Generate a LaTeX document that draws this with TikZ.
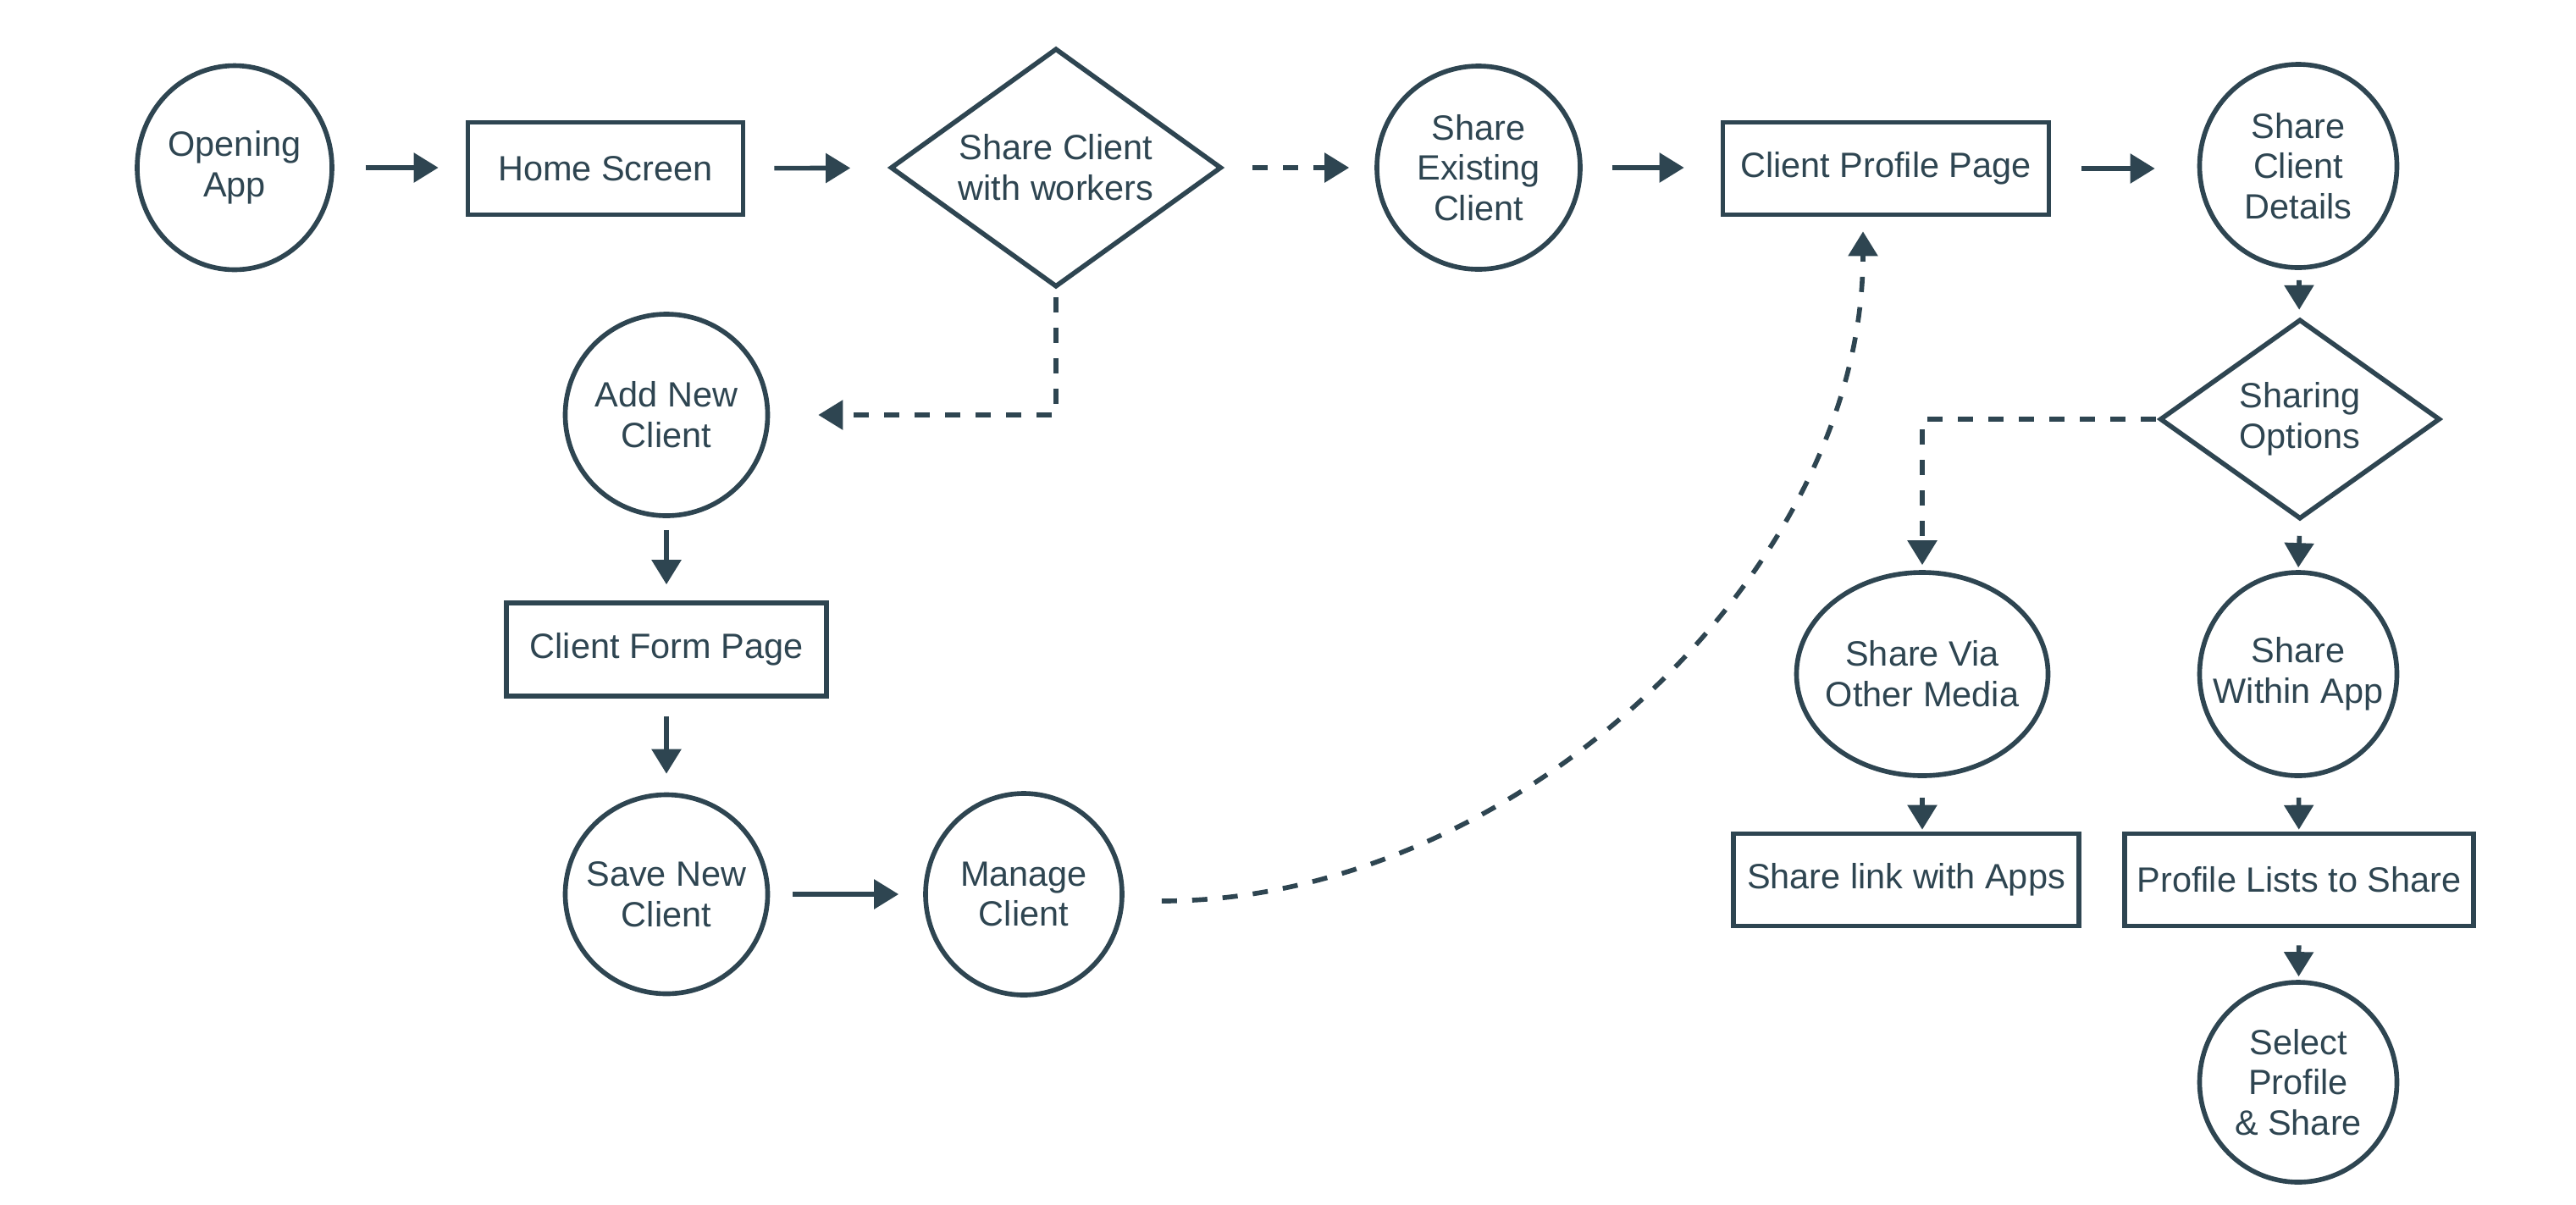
\documentclass[tikz,border=0pt]{standalone}
\usepackage{fontspec}
\setmainfont{Liberation Sans}
\usetikzlibrary{%
  arrows.meta,%
  shapes.geometric,% wg. ellipse, diamond
  positioning%
}
\definecolor{ink}{RGB}{46,69,81}

\begin{document}
\begin{tikzpicture}
  [
  font=\fontsize{11.8pt}{13.6pt}\selectfont, line width=1.6pt, text=ink,
  >={Triangle[length=2.9mm, width=3.4mm]},
  screen/.style={rectangle, draw=ink, minimum height=10.9mm, inner sep=0pt},
  action/.style={ellipse, draw=ink, inner xsep=-5mm, inner ysep=0pt, align=center},
  choice/.style={diamond, draw=ink, aspect=1.4, inner sep=0pt, align=center},
  flow/.style={->, draw=ink},
  maybe/.style={->, draw=ink, dash pattern=on 1.8mm off 1.8mm},
  gap/.style 2 args={shorten <=#1, shorten >=#2}
  ]

\useasboundingbox (0,0) rectangle (30.42,-14.22);

% top row
\node[action, minimum width=23mm, minimum height=24.1mm] (open) at (2.77,-1.98) {Opening\\App};
\node[screen, minimum width=32.5mm] (home) at (7.15,-1.99) {Home Screen};
\node[choice, minimum width=39.1mm, minimum height=28.2mm] (dia) at (12.47,-1.98) {Share Client\\with workers};
\node[action, minimum width=24mm, minimum height=24mm] (exist) at (17.46,-1.98) {Share\\Existing\\Client};
\node[screen, minimum width=38.5mm] (profile) at (22.27,-1.99) {Client Profile Page};
\node[action, minimum width=23.3mm, minimum height=24mm] (details) at (27.14,-1.96) {Share\\Client\\Details};

% new client branch
\node[action, minimum width=23.9mm, minimum height=23.8mm] (addnew) at (7.87,-4.90) {Add New\\Client};
\node[screen, minimum width=37.8mm, minimum height=11mm] (form) at (7.87,-7.67) {Client Form Page};
\node[action, minimum width=23.9mm, minimum height=23.5mm] (save) at (7.87,-10.56) {Save New\\Client};
\node[action, minimum width=23.2mm, minimum height=23.8mm] (manage) at (12.09,-10.56) {Manage\\Client};

% sharing branch
\node[choice, minimum width=33.1mm, minimum height=23.6mm] (opt) at (27.16,-4.95) {Sharing\\Options};
\node[action, minimum width=29.7mm, minimum height=24mm] (via) at (22.70,-7.96) {Share Via\\Other Media};
\node[action, minimum width=23.3mm, minimum height=24mm] (within) at (27.14,-7.96) {Share\\Within App};
\node[screen, minimum width=40.8mm] (link) at (22.51,-10.39) {Share link with Apps};
\node[screen, minimum width=41.2mm] (lists) at (27.15,-10.39) {Profile Lists to Share};
\node[action, minimum width=23.3mm, minimum height=23.6mm] (select) at (27.14,-12.78) {Select\\Profile\\\&~Share};

\draw[flow, gap={0.37cm}{0.32cm}] (open) -- (open -| home.west);
\draw[flow, gap={0.34cm}{0.45cm}] (home) -- (dia);
\draw[maybe, gap={0.34cm}{0.30cm}] (dia) -- (exist);
\draw[flow, gap={0.35cm}{0.43cm}] (exist) -- (exist -| profile.west);
\draw[flow, gap={0.36cm}{0.50cm}] (profile) -- (profile -| details.west);
\draw[flow, gap={0.12cm}{0.09cm}] (details) -- (opt);

\draw[maybe, gap={0.09cm}{0.57cm}] (dia.south) |- (addnew.east);
\draw[flow, gap={0.14cm}{0.19cm}] (addnew) -- (form);
\draw[flow, gap={0.21cm}{0.22cm}] (form) -- (save);
\draw[flow, gap={0.27cm}{0.29cm}] (save) -- (manage);
\draw[maybe, gap={0.44cm}{0.17cm}] ([yshift=-0.08cm]manage.east) .. controls +(4.6,0) and +(0,-4.2) .. ([xshift=-0.27cm]profile.south);

\draw[maybe, gap={0.02cm}{0.06cm}] (opt.west) -| (via.north);
\draw[maybe, gap={0.17cm}{0.03cm}] (opt.south) -- (within.north);
\draw[flow, gap={0.23cm}{0.02cm}] (via.south) -- (via.south |- link.north);
\draw[flow, gap={0.23cm}{0.02cm}] (within) -- (lists);
\draw[flow, gap={0.20cm}{0.04cm}] (lists) -- (select);
\end{tikzpicture}
\end{document}
